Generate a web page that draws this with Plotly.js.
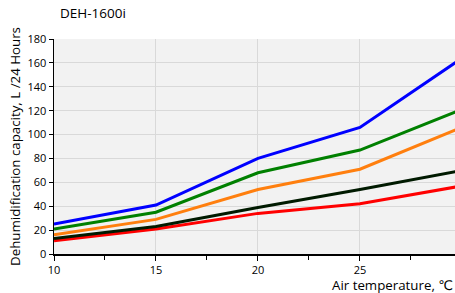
<!DOCTYPE html>
<html><head><meta charset="utf-8">
<script src="https://cdn.plot.ly/plotly-3.0.1.min.js"></script>
<style>html,body{margin:0;padding:0;background:#fff}</style>
</head><body>
<div id="chart" style="width:455px;height:293px"></div>
<script>
const temps = [10, 15, 20, 25, 30];
const blueSeries = [25, 41, 80, 106, 164];
const greenSeries = [21, 35, 68, 87, 121];
const orangeSeries = [16, 29, 54, 71, 106];
const blackSeries = [13, 23, 39, 54, 70];
const redSeries = [11, 21, 34, 42, 57];
const yTicks = [0, 20, 40, 60, 80, 100, 120, 140, 160, 180];
const xTicks = [10, 15, 20, 25];

const series = [
  {y: blueSeries, c: '#0000ff'},
  {y: greenSeries, c: '#008000'},
  {y: orangeSeries, c: '#ff7f0e'},
  {y: redSeries, c: '#ff0000'},
  {y: blackSeries, c: '#001a00'}
];
const traces = series.map(s => ({x: temps, y: s.y, mode: 'lines', line: {color: s.c, width: 3}, hoverinfo: 'none'}));

const font = {family: 'Open Sans, DejaVu Sans, sans-serif', size: 11, color: '#000'};
const layout = {
  width: 455, height: 293,
  margin: {l: 54, r: 0, t: 39, b: 39},
  paper_bgcolor: '#fff', plot_bgcolor: '#f2f2f2',
  showlegend: false,
  font: font,
  title: {text: 'DEH-1600i', x: 60/455, xanchor: 'left', xref: 'container', y: 1 - 13/293, yanchor: 'middle', yref: 'container', font: {family: font.family, size: 13.5, color: '#000'}},
  xaxis: {
    range: [10, 29.66], tickvals: xTicks, ticktext: xTicks.map(String),
    showgrid: true, gridcolor: '#d9d9d9', gridwidth: 1,
    showline: true, linecolor: '#000', linewidth: 1.5,
    ticks: 'outside', ticklen: 5, tickcolor: '#000', tickfont: {size: 11},
    minor: {dtick: 2.5, tick0: 10, ticks: 'outside', ticklen: 4, tickcolor: '#000', showgrid: false},
    zeroline: false, fixedrange: true
  },
  yaxis: {
    range: [0, 180], tickvals: yTicks,
    showgrid: true, gridcolor: '#d9d9d9', gridwidth: 1,
    showline: true, linecolor: '#000', linewidth: 1.5,
    ticks: 'outside', ticklen: 4, tickcolor: '#000', tickfont: {size: 11},
    title: {text: 'Dehumidification capacity, L /24 Hours', font: {size: 13.3}, standoff: 4},
    zeroline: false, fixedrange: true
  },
  annotations: [{
    text: 'Air temperature, ℃', xref: 'paper', yref: 'paper', x: 1, xanchor: 'right',
    y: -31/215, yanchor: 'middle', showarrow: false, font: {size: 13.3, color: '#000'}
  }]
};
Plotly.newPlot('chart', traces, layout, {displayModeBar: false, staticPlot: true});
</script>
</body></html>
